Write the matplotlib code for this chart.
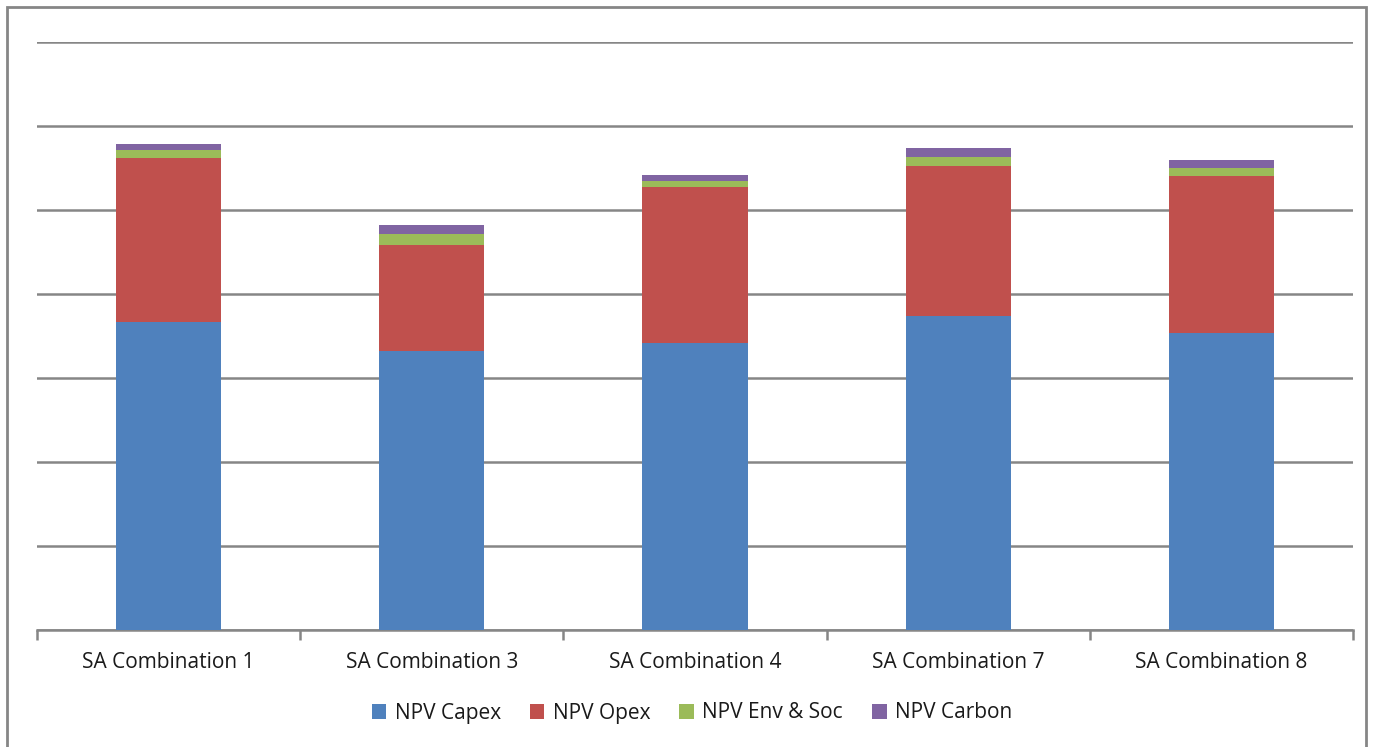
import numpy as np
import matplotlib.pyplot as plt
from matplotlib.patches import Rectangle

# Data (units = gridline steps)
categories = ['SA Combination 1', 'SA Combination 3', 'SA Combination 4',
              'SA Combination 7', 'SA Combination 8']
capex = [3.67, 3.32, 3.42, 3.74, 3.54]
opex = [1.95, 1.26, 1.85, 1.78, 1.87]
env_soc = [0.09, 0.14, 0.08, 0.11, 0.09]
carbon = [0.08, 0.10, 0.07, 0.11, 0.10]

series = [('NPV Capex', capex, '#4F81BD'),
          ('NPV Opex', opex, '#C0504D'),
          ('NPV Env & Soc', env_soc, '#9BBB59'),
          ('NPV Carbon', carbon, '#8064A2')]

plt.rcParams['font.family'] = ['Open Sans', 'DejaVu Sans']

fig = plt.figure(figsize=(13.73, 7.47), dpi=100)
ax = fig.add_axes([37 / 1373, 117 / 747, 1316 / 1373, 588 / 747])

x = np.arange(len(categories))
bottom = np.zeros(len(categories))
for name, vals, color in series:
    ax.bar(x, vals, width=0.4, bottom=bottom, color=color, label=name, zorder=3)
    bottom += np.array(vals)

ax.set_xlim(-0.5, len(categories) - 0.5)
ax.set_ylim(0, 7)
ax.set_yticks(np.arange(0, 8))
ax.set_yticklabels([])
ax.tick_params(axis='y', length=0)
ax.grid(axis='y', color='#868686', linewidth=1.8, zorder=0)

# category labels between boundary ticks
ax.set_xticks(x)
ax.set_xticklabels(categories, fontsize=15, color='#1a1a1a')
ax.tick_params(axis='x', length=0, pad=16)
ax.set_xticks(np.arange(-0.5, len(categories)), minor=True)
ax.tick_params(axis='x', which='minor', length=7, width=1.8, color='#868686')

for s in ['top', 'right', 'left']:
    ax.spines[s].set_visible(False)
ax.spines['bottom'].set_color('#868686')
ax.spines['bottom'].set_linewidth(1.8)

handles, labels = ax.get_legend_handles_labels()
leg = fig.legend(handles, labels, loc='center', bbox_to_anchor=(692 / 1373, 1 - 713 / 747),
                 ncol=4, frameon=False, fontsize=15, handlelength=0.7, handleheight=0.7,
                 handletextpad=0.4, columnspacing=1.4)
for t in leg.get_texts():
    t.set_color('#1a1a1a')

# outer chart border
fig.patches.append(Rectangle((7 / 1373, -0.05), 1359 / 1373, 1.05 - 7 / 747,
                             transform=fig.transFigure, fill=False,
                             edgecolor='#868686', linewidth=2))

fig.savefig('out.png', dpi=100)
